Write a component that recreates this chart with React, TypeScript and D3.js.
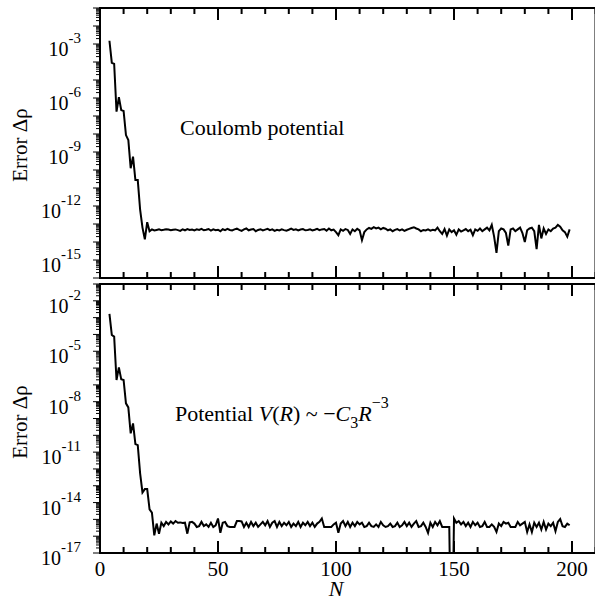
import React from "react";
import * as d3 from "d3";

// N values (orders of the expansion), 4..199
const nValues: number[] = d3.range(4, 200);

// log10 of the error, Coulomb potential (top panel)
const coulombLog10: number[] = [
  -2.82, -4.04, -4.1, -6.76, -5.96, -6.67, -6.72, -8.06, -8.33, -9.9, -9.26, -10.56, -10.56, -12.2, -13.2, -13.85, -12.9, -13.4,
  -13.30, -13.36, -13.33, -13.30, -13.34, -13.32, -13.29, -13.31,
  -13.35, -13.32, -13.30, -13.34, -13.38, -13.30, -13.35, -13.28, -13.33, -13.31,
  -13.36, -13.30, -13.33, -13.27, -13.35, -13.32, -13.28, -13.37, -13.30, -13.35,
  -13.32, -13.40, -13.29, -13.34, -13.27, -13.33, -13.36, -13.30, -13.26, -13.33,
  -13.38, -13.30, -13.25, -13.35, -13.31, -13.28, -13.40, -13.33, -13.29, -13.36,
  -13.31, -13.27, -13.34, -13.30, -13.38, -13.32, -13.36, -13.30, -13.34, -13.37,
  -13.32, -13.26, -13.33, -13.30, -13.36, -13.31, -13.28, -13.35, -13.33, -13.30,
  -13.36, -13.32, -13.27, -13.34, -13.30, -13.28, -13.37, -13.25, -13.35, -13.31,
  -13.45, -13.62, -13.30, -13.38, -13.28, -13.33, -13.55, -13.30, -13.40, -13.27,
  -13.35, -13.90, -13.45, -13.30, -13.22, -13.27, -13.18, -13.25, -13.20, -13.30,
  -13.22, -13.26, -13.35, -13.30, -13.40, -13.33, -13.28, -13.36, -13.30, -13.38,
  -13.32, -13.27, -13.22, -13.18, -13.25, -13.30, -13.40, -13.33, -13.36, -13.30,
  -13.37, -13.32, -13.35, -13.20, -13.40, -13.55, -13.28, -13.65, -13.30, -13.45,
  -13.35, -13.60, -13.30, -13.42, -13.35, -13.28, -13.40, -13.32, -13.62, -13.30,
  -13.38, -13.25, -13.40, -13.30, -13.20, -13.35, -13.05, -13.70, -14.60, -13.40,
  -13.25, -13.30, -13.50, -14.20, -13.30, -13.25, -13.40, -13.30, -13.20, -13.50,
  -14.00, -13.35, -13.25, -13.20, -13.40, -14.40, -13.05, -13.80, -13.25, -13.55,
  -13.30, -13.40, -13.25, -13.20, -13.05, -13.15, -13.35, -13.45, -13.70, -13.30,
];

// log10 of the error, V(R) ~ -C3 R^-3 (bottom panel)
const c3Log10: number[] = [
  -2.78, -4.03, -4.13, -6.71, -5.96, -6.67, -6.71, -8.1, -8.34, -9.88, -9.29, -10.52, -10.58, -12.26, -13.4, -13.2, -13.2,
  -14.4, -14.6, -15.95, -15.25, -15.85, -15.2,
  -15.40, -15.15, -15.30,
  -15.12, -15.25, -15.10, -15.20, -15.18, -15.22, -15.20, -15.85, -15.18, -15.15,
  -15.25, -15.45, -15.40, -15.15, -15.40, -15.30, -15.45, -15.20, -15.45, -15.35,
  -14.95, -15.80, -15.20, -15.15, -15.40, -15.45, -15.45, -15.45, -15.10, -15.10,
  -15.12, -15.45, -15.20, -15.45, -15.15, -15.40, -15.20, -15.45, -15.30, -15.15,
  -15.35, -15.10, -15.45, -15.20, -15.10, -15.45, -15.15, -15.40, -15.20, -15.35,
  -15.15, -15.45, -15.25, -15.40, -15.15, -15.45, -15.20, -15.35, -15.15, -15.40,
  -15.20, -15.45, -15.25, -15.15, -14.95, -15.45, -15.45, -15.45, -15.45, -15.30,
  -15.20, -15.80, -15.25, -15.10, -15.40, -15.15, -15.45, -15.20, -15.40, -15.15,
  -15.30, -15.20, -15.45, -15.40, -15.20, -15.40, -15.45, -15.30, -15.45, -15.15,
  -15.35, -15.45, -15.40, -15.25, -15.45, -15.40, -15.20, -15.45, -15.35, -15.15,
  -15.40, -15.20, -15.45, -15.25, -15.10, -15.45, -15.40, -15.20, -15.45, -15.80,
  -15.20, -15.45, -15.15, -15.35, -15.10, -15.45, -15.45, -15.45,
  -15.45, -25.0, -14.95,
  -15.20, -15.10, -15.30, -15.15, -15.40, -15.20, -15.45, -15.15, -15.35,
  -15.20, -15.45, -15.40, -15.15, -15.45, -15.45, -15.30, -15.45, -15.75, -15.25,
  -15.40, -15.15, -15.25, -15.20, -15.45, -15.45, -15.45, -15.15, -15.35, -15.25,
  -15.15, -15.75, -15.30, -15.75, -15.20, -15.45, -15.20, -15.60, -15.15, -15.60,
  -15.25, -15.40, -15.20, -15.70, -15.15, -14.98, -15.40, -15.45, -15.25, -15.35,
];

const xTicks: number[] = [0, 50, 100, 150, 200];
const topExpLabels: number[] = [-3, -6, -9, -12, -15];
const bottomExpLabels: number[] = [-2, -5, -8, -11, -14, -17];
const topDecades: [number, number] = [-16, -1];
const bottomDecades: [number, number] = [-17, -1];

const FONT = "Liberation Serif, Times New Roman, Times, serif";
const serif = { fontFamily: FONT };
const LEFT = 100;
const RIGHT_EDGE = 595.5;

const x = d3.scaleLinear().domain([0, 200]).range([LEFT, 572]);

type PanelProps = {
  id: string;
  top: number;
  bottom: number;
  decades: [number, number];
  labels: number[];
  values: number[];
  showXLabels: boolean;
  ylabelY: number;
};

function Panel({ id, top, bottom, decades, labels, values, showXLabels, ylabelY }: PanelProps) {
  const y = d3.scaleLog().domain([Math.pow(10, decades[0]), Math.pow(10, decades[1])]).range([bottom, top]);
  const line = d3
    .line<number>()
    .x((_, i) => x(nValues[i]))
    .y((v) => y(Math.pow(10, v)));

  const minorY: number[] = [];
  const majorY: number[] = [];
  for (let e = decades[0]; e <= decades[1]; e++) {
    majorY.push(e);
    if (e < decades[1]) {
      for (let m = 2; m <= 9; m++) minorY.push(m * Math.pow(10, e));
    }
  }
  const xMinor = d3.range(0, 211, 10).filter((v) => v % 50 !== 0);
  const xMajor = d3.range(0, 211, 50);

  return (
    <g>
      <defs>
        <clipPath id={id}>
          <rect x={LEFT} y={top} width={RIGHT_EDGE - LEFT} height={bottom - top} />
        </clipPath>
      </defs>
      <path d={line(values) || ""} fill="none" stroke="#000" strokeWidth={2} strokeLinejoin="miter" clipPath={`url(#${id})`} />
      {majorY.map((e) => (
        <line key={"M" + e} x1={LEFT - 7} x2={LEFT} y1={y(Math.pow(10, e))} y2={y(Math.pow(10, e))} stroke="#000" strokeWidth={1} />
      ))}
      {minorY.map((v, i) => (
        <line key={"m" + i} x1={LEFT - 4} x2={LEFT} y1={y(v)} y2={y(v)} stroke="#000" strokeWidth={1} />
      ))}
      {xMajor.map((v) => (
        <g key={"xM" + v}>
          <line x1={x(v)} x2={x(v)} y1={top} y2={top + 12} stroke="#000" strokeWidth={2} />
          <line x1={x(v)} x2={x(v)} y1={bottom} y2={bottom - 12} stroke="#000" strokeWidth={2} />
        </g>
      ))}
      {xMinor.map((v) => (
        <g key={"xm" + v}>
          <line x1={x(v)} x2={x(v)} y1={top} y2={top + 6} stroke="#000" strokeWidth={2} />
          <line x1={x(v)} x2={x(v)} y1={bottom} y2={bottom - 6} stroke="#000" strokeWidth={2} />
        </g>
      ))}
      <line x1={LEFT} x2={RIGHT_EDGE} y1={top} y2={top} stroke="#000" strokeWidth={2} />
      <line x1={LEFT} x2={RIGHT_EDGE} y1={bottom} y2={bottom} stroke="#000" strokeWidth={2} />
      <line x1={LEFT} x2={LEFT} y1={top - 1} y2={bottom + 1} stroke="#000" strokeWidth={2} />
      <line x1={RIGHT_EDGE} x2={RIGHT_EDGE} y1={top - 1} y2={bottom + 1} stroke="#000" strokeWidth={2} />
      {labels.map((e) => (
        <text key={"l" + e} x={81} y={y(Math.pow(10, e)) + 12} textAnchor="end" style={serif} fontSize={20} fill="#000">
          10
          <tspan dy={-13} fontSize={15}>{String(e)}</tspan>
        </text>
      ))}
      {showXLabels &&
        xTicks.map((v) => (
          <text key={"x" + v} x={x(v)} y={576} textAnchor="middle" style={serif} fontSize={21} fill="#000">
            {v}
          </text>
        ))}
      <text
        transform={`translate(27,${ylabelY}) rotate(-90)`}
        textAnchor="middle"
        style={serif}
        fontSize={21}
        fill="#000"
      >
        Error Δρ
      </text>
    </g>
  );
}

export default function App() {
  return (
    <svg width={595} height={600} style={{ position: "absolute", left: 0, top: 0, background: "#fff" }}>
      <rect x={0} y={0} width={595} height={600} fill="#fff" />
      <Panel id="clipTop" top={8} bottom={278} decades={topDecades} labels={topExpLabels} values={coulombLog10} showXLabels={false} ylabelY={145} />
      <Panel id="clipBottom" top={284} bottom={553} decades={bottomDecades} labels={bottomExpLabels} values={c3Log10} showXLabels={true} ylabelY={422} />
      <text x={180} y={135} style={serif} fontSize={22} fill="#000">
        Coulomb potential
      </text>
      <text x={175} y={421} style={serif} fontSize={22} fill="#000">
        Potential <tspan fontStyle="italic">V</tspan>(<tspan fontStyle="italic">R</tspan>) ~ −<tspan fontStyle="italic">C</tspan>
        <tspan dy={7} fontSize={16}>3</tspan>
        <tspan dy={-7} fontStyle="italic">R</tspan>
        <tspan dy={-13} fontSize={16}>−3</tspan>
      </text>
      <text x={336} y={596} textAnchor="middle" style={serif} fontSize={22} fontStyle="italic" fill="#000">
        N
      </text>
    </svg>
  );
}
